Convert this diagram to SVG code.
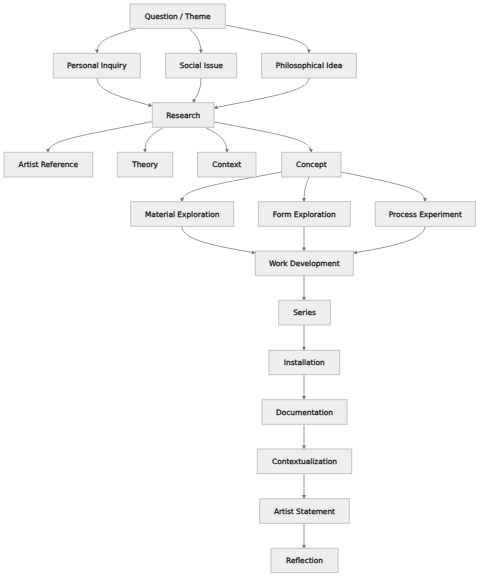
<svg xmlns="http://www.w3.org/2000/svg" width="479" height="577" viewBox="0 0 479 577">
<style>
.n rect{fill:#eeeeee;stroke:#c4c4c4;stroke-width:1}
.n text{font-family:"DejaVu Sans",Verdana,sans-serif;font-size:7.4px;fill:#111111;stroke:#111111;stroke-width:0.25;text-anchor:middle;dominant-baseline:central}
.e path{fill:none;stroke:#999999;stroke-width:1;marker-end:url(#ah)}
</style>
<defs>
<marker id="ah" viewBox="0 0 10 10" refX="9" refY="5" markerWidth="4" markerHeight="4" markerUnits="userSpaceOnUse" orient="auto">
<path d="M0,0 L10,5 L0,10 z" fill="#777777"/>
</marker>
</defs>
<rect width="479" height="577" fill="#ffffff"/>
<g id="edges" class="e">
<path d="M137,28.3 C110,36 97,40 97,53"/>
<path d="M189,28.3 C197,36 201,42 201,53"/>
<path d="M225,25 C290,38 309,40 309,53"/>
<path d="M97,78 C97,91 120,97 152,106"/>
<path d="M201,78 C201,92 196,96 193,102.7"/>
<path d="M309,78 C309,92 262,98 214,108"/>
<path d="M152.3,121.5 C80,136 48,140 48,152.3"/>
<path d="M164,127.3 C150,135 145,140 145,152.3"/>
<path d="M205,127.3 C220,135 227,140 227,152.3"/>
<path d="M214,122 C290,136 311,140 311,152.3"/>
<path d="M281.7,172 C205,186 182,190 182,201.7"/>
<path d="M309,177 C305,187 304,192 304,201.7"/>
<path d="M341,172 C410,186 425,190 425,201.7"/>
<path d="M182,226.3 C182,240 215,246 255.3,253"/>
<path d="M304,226.3 L304,251"/>
<path d="M425,226.3 C425,240 390,247 353.3,253"/>
<path d="M304,275.7 L304,300.3"/>
<path d="M304,325 L304,350.3"/>
<path d="M304,374.7 L304,399.7"/>
<path d="M304,424.3 L304,449"/>
<path d="M304,473.7 L304,498.7"/>
<path d="M304,523.3 L304,548.3"/>
</g>
<g id="n-question" class="n"><rect x="130" y="4" width="95.3" height="24.3"/><text x="177.6" y="16.2">Question / Theme</text></g>
<g id="n-personal" class="n"><rect x="53.3" y="53.3" width="87" height="24.7"/><text x="96.8" y="65.7">Personal Inquiry</text></g>
<g id="n-social" class="n"><rect x="165.7" y="53.3" width="71" height="24.7"/><text x="201.2" y="65.7">Social Issue</text></g>
<g id="n-philo" class="n"><rect x="261.7" y="53.3" width="94.6" height="24.7"/><text x="309" y="65.7">Philosophical Idea</text></g>
<g id="n-research" class="n"><rect x="152.3" y="102.7" width="61.7" height="24.6"/><text x="183.2" y="115">Research</text></g>
<g id="n-artistref" class="n"><rect x="4" y="152.3" width="88.7" height="24.7"/><text x="48.3" y="164.7">Artist Reference</text></g>
<g id="n-theory" class="n"><rect x="117.3" y="152.3" width="55.4" height="24.7"/><text x="145" y="164.7">Theory</text></g>
<g id="n-context" class="n"><rect x="197.7" y="152.3" width="58.3" height="24.7"/><text x="226.8" y="164.7">Context</text></g>
<g id="n-concept" class="n"><rect x="281.7" y="152.3" width="59.3" height="24.7"/><text x="311.3" y="164.7">Concept</text></g>
<g id="n-material" class="n"><rect x="130.7" y="201.7" width="103" height="24.6"/><text x="182.2" y="214">Material Exploration</text></g>
<g id="n-form" class="n"><rect x="258.3" y="201.7" width="92" height="24.6"/><text x="304.3" y="214">Form Exploration</text></g>
<g id="n-process" class="n"><rect x="375.3" y="201.7" width="100" height="24.6"/><text x="425.3" y="214">Process Experiment</text></g>
<g id="n-work" class="n"><rect x="255.3" y="251" width="98" height="24.7"/><text x="304.3" y="263.3">Work Development</text></g>
<g id="n-series" class="n"><rect x="278.7" y="300.3" width="51.6" height="24.7"/><text x="304.5" y="312.7">Series</text></g>
<g id="n-install" class="n"><rect x="269" y="350.3" width="70.7" height="24.4"/><text x="304.3" y="362.5">Installation</text></g>
<g id="n-doc" class="n"><rect x="262" y="399.7" width="85" height="24.6"/><text x="304.5" y="412">Documentation</text></g>
<g id="n-contextual" class="n"><rect x="257.3" y="449" width="94.4" height="24.7"/><text x="304.5" y="461.3">Contextualization</text></g>
<g id="n-statement" class="n"><rect x="259.7" y="498.7" width="89.6" height="24.6"/><text x="304.5" y="511">Artist Statement</text></g>
<g id="n-reflection" class="n"><rect x="271" y="548.3" width="67" height="24.4"/><text x="304.5" y="560.5">Reflection</text></g>
</svg>
